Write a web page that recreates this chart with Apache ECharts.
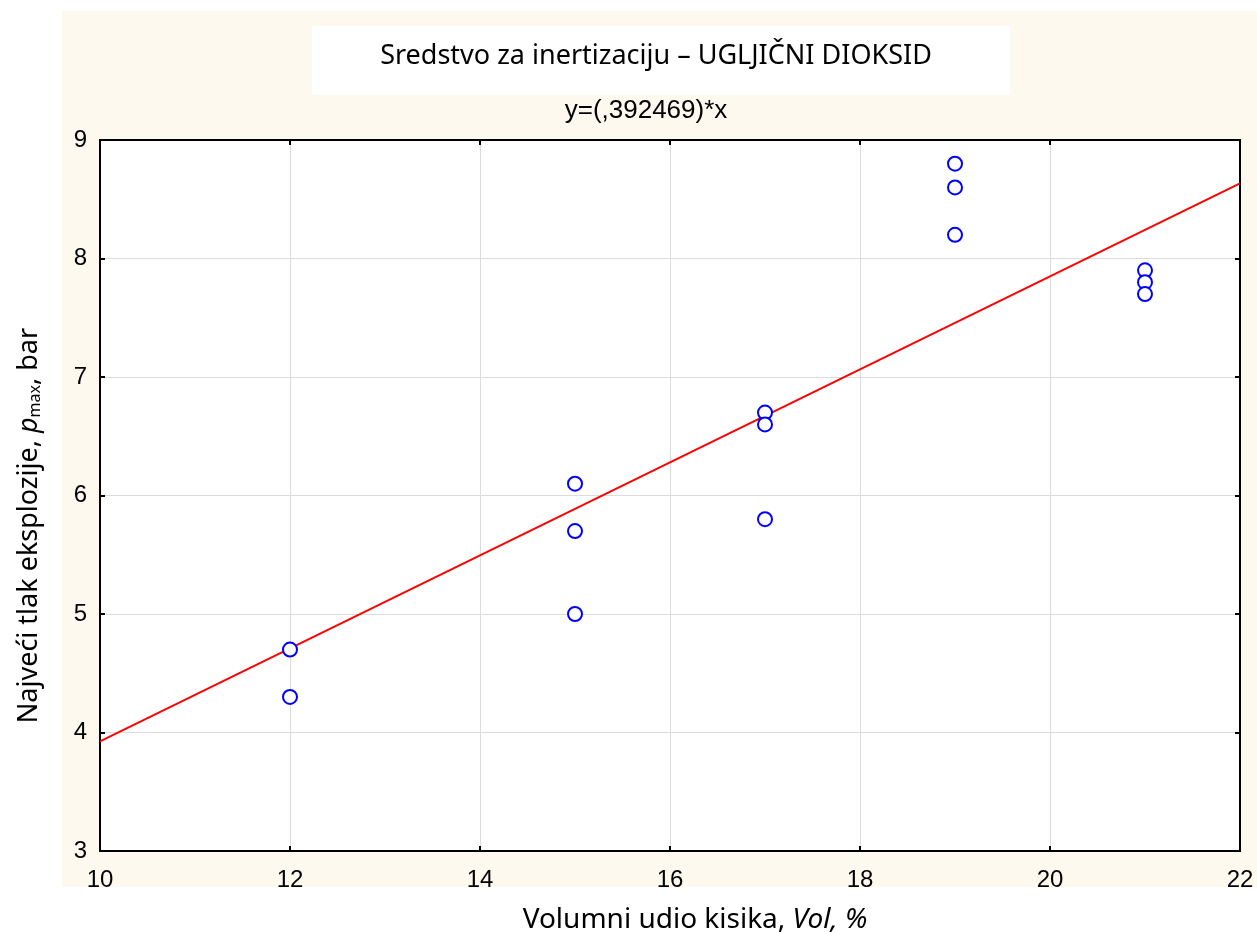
<!DOCTYPE html>
<html>
<head>
<meta charset="utf-8">
<script src="https://cdn.jsdelivr.net/npm/echarts@6/dist/echarts.min.js"></script>
<style>
  html, body { margin: 0; padding: 0; background: #fff; }
  #chart { width: 1257px; height: 932px; }
</style>
</head>
<body>
<div id="chart"></div>
<script>
// measured points: oxygen volume fraction (%) vs max explosion pressure (bar)
const volX = [12, 12, 15, 15, 15, 17, 17, 17, 19, 19, 19, 21, 21, 21];
const pMax = [4.7, 4.3, 6.1, 5.7, 5.0, 6.7, 6.6, 5.8, 8.8, 8.6, 8.2, 7.9, 7.8, 7.7];
// fitted line y = 0.392469 * x, drawn across the x range
const slope = 0.392469;
const fitX = [10, 22];
const xTicks = [10, 12, 14, 16, 18, 20, 22];
const yTicks = [3, 4, 5, 6, 7, 8, 9];

const points = volX.map((x, i) => [x, pMax[i]]);
const fitLine = fitX.map(x => [x, slope * x]);

const chart = echarts.init(document.getElementById('chart'));

const tickFont = { color: '#000', fontSize: 24, fontFamily: 'Liberation Sans' };
const gridLine = { show: true, lineStyle: { color: '#dcdcdc', width: 1 } };
const blackLine = { show: true, lineStyle: { color: '#000', width: 2 } };
const inTick = { show: true, inside: true, length: 5, lineStyle: { color: '#000', width: 2 } };

chart.setOption({
  backgroundColor: '#fff',
  animation: false,
  graphic: [
    { type: 'rect', z: -10, shape: { x: 62, y: 11, width: 1195, height: 876 }, style: { fill: '#fdf9ee' } },
    { type: 'rect', z: -9, shape: { x: 312, y: 26, width: 698, height: 69 }, style: { fill: '#fff' } }
  ],
  title: [
    {
      text: 'Sredstvo za inertizaciju – UGLJIČNI DIOKSID',
      left: 651, top: 38, textAlign: 'center',
      textStyle: { fontSize: 27, fontWeight: 'normal', color: '#000', fontFamily: 'Noto Sans' }
    },
    {
      text: 'y=(,392469)*x',
      left: 641, top: 93, textAlign: 'center',
      textStyle: { fontSize: 26, fontWeight: 'normal', color: '#000', fontFamily: 'Liberation Sans' }
    }
  ],
  grid: {
    left: 100, right: 17, top: 140, bottom: 81,
    containLabel: false, outerBoundsMode: 'none',
    show: true, backgroundColor: '#fff', borderColor: '#000', borderWidth: 2
  },
  xAxis: [
    {
      type: 'value', min: 10, max: 22, interval: 2,
      axisLine: blackLine, axisTick: inTick, splitLine: gridLine,
      axisLabel: Object.assign({ margin: 17, formatter: v => xTicks.includes(v) ? String(v) : '' }, tickFont),
      name: '{n|Volumni udio kisika, }{i|Vol, %}',
      nameLocation: 'middle', nameGap: 55,
      nameTextStyle: {
        padding: [0, 0, 0, 50],
        rich: {
          n: { fontSize: 28, color: '#000', fontFamily: 'Noto Sans' },
          i: { fontSize: 28, color: '#000', fontFamily: 'Noto Sans', fontStyle: 'italic' }
        }
      }
    },
    {
      type: 'value', position: 'top', min: 10, max: 22, interval: 2,
      axisLine: blackLine, axisTick: inTick, splitLine: { show: false }, axisLabel: { show: false }
    }
  ],
  yAxis: [
    {
      type: 'value', min: 3, max: 9, interval: 1,
      axisLine: blackLine, axisTick: inTick, splitLine: gridLine,
      axisLabel: Object.assign({ margin: 13, formatter: v => yTicks.includes(v) ? String(v) : '' }, tickFont),
      name: '{n|Najveći tlak eksplozije, }{i|p}{s|max}{n|, bar}',
      nameLocation: 'middle', nameRotate: 90, nameGap: 57,
      nameTextStyle: {
        padding: [0, 60, 0, 0],
        rich: {
          n: { fontSize: 27, color: '#000', fontFamily: 'Noto Sans', verticalAlign: 'bottom', lineHeight: 34 },
          i: { fontSize: 27, color: '#000', fontFamily: 'Noto Sans', fontStyle: 'italic', verticalAlign: 'bottom', lineHeight: 34 },
          s: { fontSize: 16, color: '#000', fontFamily: 'Noto Sans', verticalAlign: 'bottom', lineHeight: 27 }
        }
      }
    },
    {
      type: 'value', position: 'right', min: 3, max: 9, interval: 1,
      axisLine: blackLine, axisTick: inTick, splitLine: { show: false }, axisLabel: { show: false }
    }
  ],
  series: [
    {
      type: 'line', data: fitLine, showSymbol: false, symbol: 'none',
      lineStyle: { color: '#ff0000', width: 2 }, z: 3
    },
    {
      type: 'scatter', data: points, symbol: 'emptyCircle', symbolSize: 14,
      itemStyle: { color: '#0000ff', borderColor: '#0000ff', borderWidth: 2, opacity: 1 }, z: 4
    }
  ]
});
</script>
</body>
</html>
